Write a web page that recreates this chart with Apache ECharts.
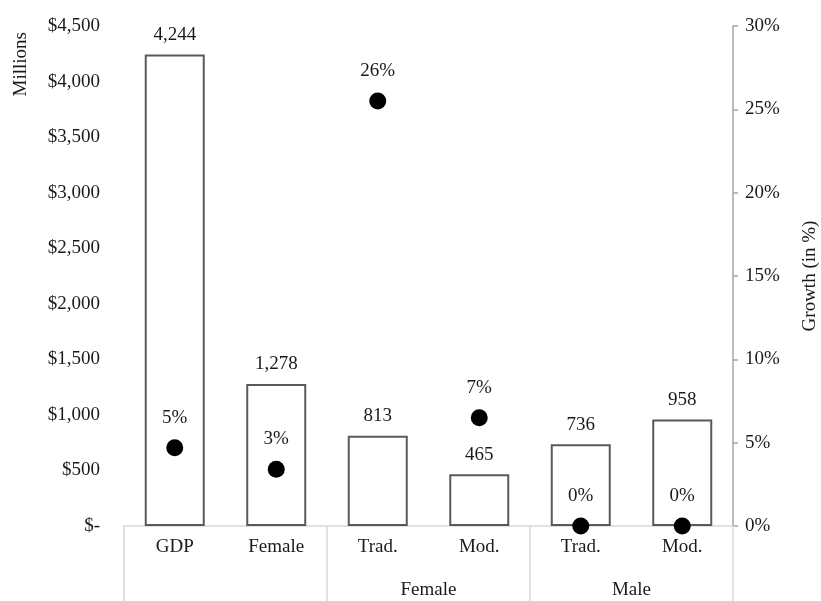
<!DOCTYPE html>
<html>
<head>
<meta charset="utf-8">
<script src="https://cdn.jsdelivr.net/npm/echarts@6/dist/echarts.min.js"></script>
<style>
  html, body { margin: 0; padding: 0; background: #fff; }
  #chart { width: 821px; height: 601px; }
</style>
</head>
<body>
<div id="chart"></div>
<script>
// Market size (millions) and growth by segment
const categories = ['GDP', 'Female', 'Trad.', 'Mod.', 'Trad.', 'Mod.'];
const groups = ['', 'Female', 'Male'];
const sizeMillions = [4244, 1278, 813, 465, 736, 958];
const growth = [0.047, 0.034, 0.255, 0.065, 0, 0];

const FONT = '"Liberation Serif", "Times New Roman", serif';
const TEXT = '#1a1a1a';
const FS = 19;

const chart = echarts.init(document.getElementById('chart'));

chart.setOption({
  animation: false,
  textStyle: { fontFamily: FONT, color: TEXT },
  grid: { left: 124, right: 88, top: 26, bottom: 75, containLabel: false, outerBoundsMode: 'none' },
  xAxis: [
    {
      type: 'category',
      data: categories,
      position: 'bottom',
      axisLine: { lineStyle: { color: '#d9d9d9', width: 1.5 } },
      axisTick: { show: false },
      axisLabel: { fontFamily: FONT, fontSize: FS, color: TEXT, margin: 12, interval: 0 }
    },
    {
      type: 'category',
      data: groups,
      position: 'bottom',
      offset: 0,
      axisLine: { show: false },
      axisTick: { show: true, interval: 0, length: 76, lineStyle: { color: '#d9d9d9', width: 1.5 } },
      axisLabel: { fontFamily: FONT, fontSize: FS, color: TEXT, margin: 55, interval: 0 }
    }
  ],
  yAxis: [
    {
      type: 'value',
      min: 0,
      max: 4500,
      interval: 500,
      axisLine: { show: false },
      axisTick: { show: false },
      splitLine: { show: false },
      axisLabel: {
        fontFamily: FONT, fontSize: FS, color: TEXT, margin: 24,
        formatter: v => v === 0 ? '$-' : '$' + v.toLocaleString('en-US')
      }
    },
    {
      type: 'value',
      min: 0,
      max: 0.30,
      interval: 0.05,
      position: 'right',
      name: 'Growth (in %)',
      nameLocation: 'middle',
      nameGap: 68,
      nameTextStyle: { fontFamily: FONT, fontSize: FS, color: TEXT },
      axisLine: { show: true, lineStyle: { color: '#a6a6a6', width: 1.5 } },
      axisTick: { show: true, length: 5, lineStyle: { color: '#a6a6a6', width: 1.5 } },
      splitLine: { show: false },
      axisLabel: {
        fontFamily: FONT, fontSize: FS, color: TEXT, margin: 12,
        formatter: v => Math.round(v * 100) + '%'
      }
    }
  ],
  graphic: [
    {
      type: 'text',
      left: 12,
      top: 32,
      rotation: Math.PI / 2,
      style: { text: 'Millions', font: FS + 'px ' + FONT, fill: TEXT }
    }
  ],
  series: [
    {
      type: 'bar',
      xAxisIndex: 0,
      yAxisIndex: 0,
      data: sizeMillions,
      barWidth: 60,
      itemStyle: { color: '#ffffff', borderColor: '#595959', borderWidth: 2 },
      label: {
        show: true,
        position: 'top',
        distance: 10,
        fontFamily: FONT,
        fontSize: FS,
        color: TEXT,
        formatter: p => p.value.toLocaleString('en-US')
      },
      z: 2
    },
    {
      type: 'scatter',
      xAxisIndex: 0,
      yAxisIndex: 1,
      data: growth,
      symbol: 'circle',
      symbolSize: 17,
      itemStyle: { color: '#000000', opacity: 1 },
      label: {
        show: true,
        position: 'top',
        distance: 12,
        fontFamily: FONT,
        fontSize: FS,
        color: TEXT,
        opacity: 1,
        formatter: p => Math.round(p.value * 100) + '%'
      },
      z: 5
    }
  ]
});
</script>
</body>
</html>
